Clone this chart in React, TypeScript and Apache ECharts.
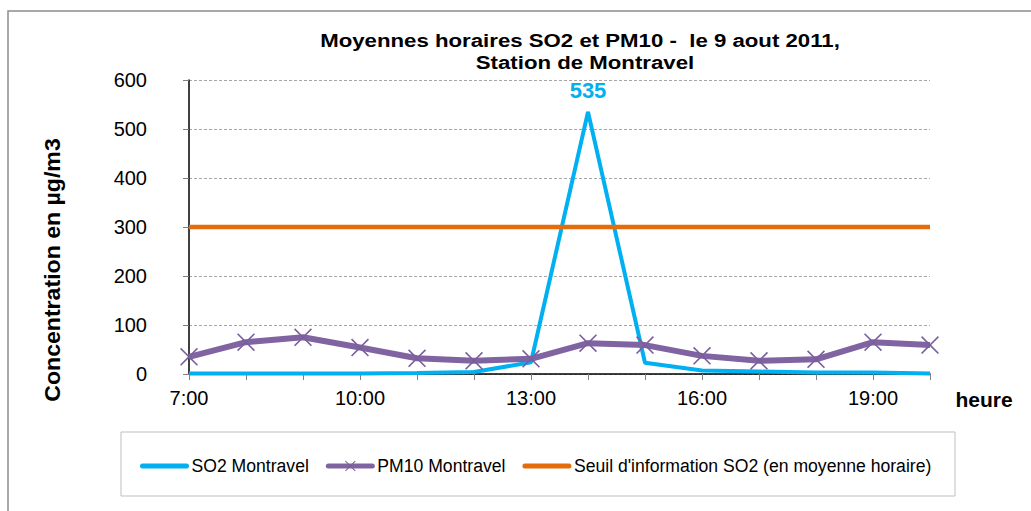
import React, { useEffect, useRef } from "react";
import * as echarts from "echarts";

const hours = ["7:00", "8:00", "9:00", "10:00", "11:00", "12:00", "13:00", "14:00", "15:00", "16:00", "17:00", "18:00", "19:00", "20:00"];
const so2Montravel = [1, 1, 1, 1, 2, 4, 24, 535, 23, 7, 5, 3, 3, 1];
const pm10Montravel = [35, 65, 75, 54, 32, 27, 31, 63, 59, 37, 27, 30, 65, 59];
const seuilSO2 = [300, 300, 300, 300, 300, 300, 300, 300, 300, 300, 300, 300, 300, 300];
const yTicks = { min: 0, max: 600, interval: 100 };

const FONT = "'Liberation Sans', Arial, sans-serif";
const X_SYMBOL = "path://M0,1L1,0L8,7L15,0L16,1L9,8L16,15L15,16L8,9L1,16L0,15L7,8Z";

export default function App() {
  const ref = useRef<HTMLDivElement>(null);
  useEffect(() => {
    if (!ref.current) return;
    const chart = echarts.init(ref.current, null, { renderer: "svg" });
    const peak = Math.max(...so2Montravel);
    chart.setOption({
      animation: false,
      backgroundColor: "#ffffff",
      textStyle: { fontFamily: FONT },
      grid: { left: 189, right: 101, top: 80, bottom: 137, containLabel: false, outerBoundsMode: "none" },
      legend: {
        left: 140,
        top: 457,
        padding: 0,
        itemWidth: 44,
        itemHeight: 13,
        itemGap: 17,
        lineStyle: { width: 5, cap: "round" },
        textStyle: { fontFamily: FONT, fontSize: 17.6, color: "#000" },
        data: [
          { name: "SO2 Montravel", itemStyle: { opacity: 0 } },
          { name: "PM10 Montravel" },
          { name: "Seuil d'information SO2 (en moyenne horaire)", itemStyle: { opacity: 0 } },
        ],
      },
      xAxis: {
        type: "category",
        data: hours,
        boundaryGap: false,
        axisLine: { show: true, lineStyle: { color: "#000", width: 1.5 } },
        axisTick: { show: true, interval: 0, length: 6, lineStyle: { color: "#808080" } },
        axisLabel: { interval: 2, margin: 14, fontSize: 20, color: "#000", fontFamily: FONT },
        splitLine: { show: false },
      },
      yAxis: {
        type: "value",
        min: yTicks.min,
        max: yTicks.max,
        interval: yTicks.interval,
        axisLine: { show: true, lineStyle: { color: "#000", width: 1.5 } },
        axisTick: { show: true, length: 6, lineStyle: { color: "#808080" } },
        axisLabel: { margin: 42, fontSize: 20, color: "#000", fontFamily: FONT },
        splitLine: { show: true, lineStyle: { color: "#A6A6A6", type: [3, 2], width: 1 } },
      },
      graphic: [
        { type: "rect", silent: true, shape: { x: 8, y: 11, width: 1100, height: 700 }, style: { fill: "none", stroke: "#8C8C8C", lineWidth: 1.5 }, z: -10 },
        { type: "rect", silent: true, shape: { x: 121, y: 432, width: 834, height: 64 }, style: { fill: "none", stroke: "#BFBFBF", lineWidth: 1 } },
        { type: "text", x: 580, y: 40, scaleX: 1.17, style: { text: "Moyennes horaires SO2 et PM10 -  le 9 aout 2011,", fontFamily: FONT, fontWeight: "bold", fontSize: 19, fill: "#000", textAlign: "center", textVerticalAlign: "middle" } },
        { type: "text", x: 585, y: 62, scaleX: 1.17, style: { text: "Station de Montravel", fontFamily: FONT, fontWeight: "bold", fontSize: 19, fill: "#000", textAlign: "center", textVerticalAlign: "middle" } },
        { type: "text", x: 53, y: 270, rotation: Math.PI / 2, scaleX: 1.05, style: { text: "Concentration en µg/m3", fontFamily: FONT, fontWeight: "bold", fontSize: 22, fill: "#000", textAlign: "center", textVerticalAlign: "middle" } },
        { type: "text", x: 984, y: 399, style: { text: "heure", fontFamily: FONT, fontWeight: "bold", fontSize: 21, fill: "#000", textAlign: "center", textVerticalAlign: "middle" } },
      ],
      series: [
        {
          name: "SO2 Montravel",
          type: "line",
          data: so2Montravel.map((v) => (v === peak ? { value: v, label: { show: true } } : v)),
          symbol: "circle",
          symbolSize: 1,
          showSymbol: true,
          color: "#00B0F0",
          itemStyle: { color: "#00B0F0" },
          lineStyle: { color: "#00B0F0", width: 4 },
          label: { show: false, position: "top", distance: 10, fontFamily: FONT, fontWeight: "bold", fontSize: 22, color: "#00B0F0" },
        },
        {
          name: "PM10 Montravel",
          type: "line",
          data: pm10Montravel,
          symbol: X_SYMBOL,
          symbolSize: 18,
          showSymbol: true,
          color: "#8064A2",
          itemStyle: { color: "#7A5E9C" },
          lineStyle: { color: "#8064A2", width: 6 },
        },
        {
          name: "Seuil d'information SO2 (en moyenne horaire)",
          type: "line",
          data: seuilSO2,
          symbol: "none",
          color: "#E46C0A",
          lineStyle: { color: "#E46C0A", width: 4.5 },
        },
      ],
    });
    return () => chart.dispose();
  }, []);
  return <div ref={ref} style={{ position: "fixed", left: 0, top: 0, width: 1031, height: 511 }} />;
}
